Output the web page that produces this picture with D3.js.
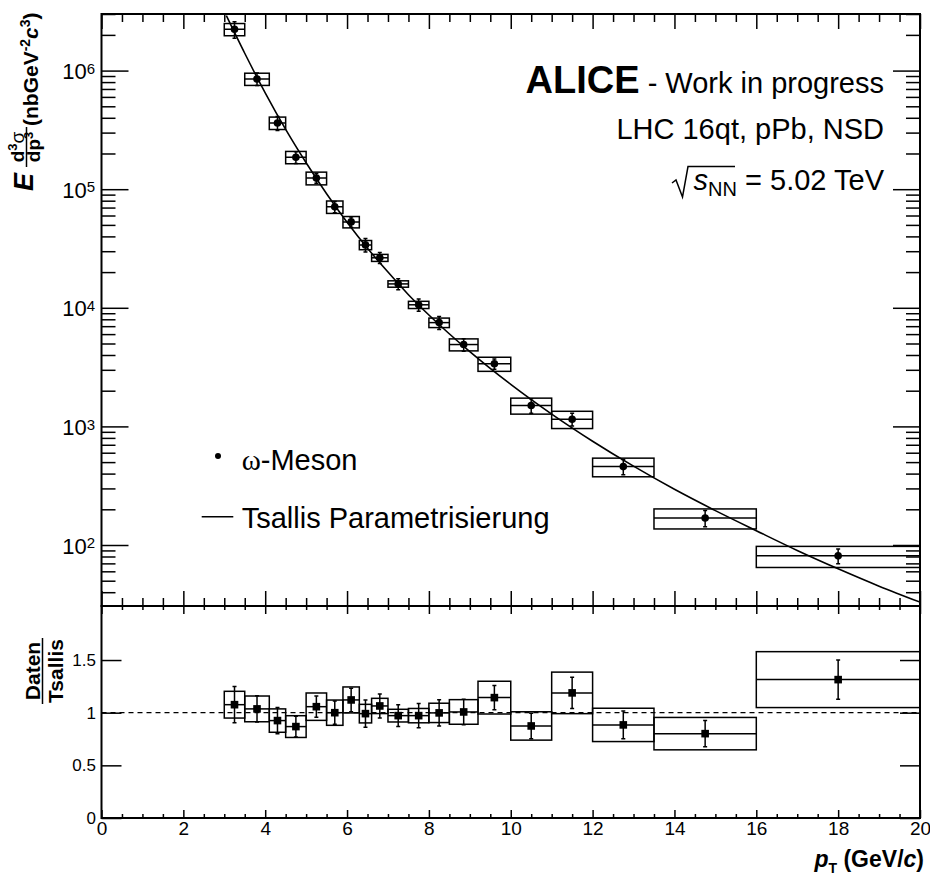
<!DOCTYPE html>
<html>
<head>
<meta charset="UTF-8" />
<title>omega meson pPb spectrum</title>
<script src="https://cdnjs.cloudflare.com/ajax/libs/d3/7.8.5/d3.min.js"></script>
<style>
  body { margin: 0; background: #fff; }
  svg { display: block; background: #fff; font-family: "Liberation Sans", Arial, Helvetica, sans-serif; }
</style>
</head>
<body>
<svg id="chart" width="930" height="876"></svg>
<script>
// pT bin edges (GeV/c)
const binEdges = [3.0, 3.5, 4.1, 4.5, 5.0, 5.5, 5.9, 6.3, 6.6, 7.0, 7.5, 8.0, 8.5, 9.2, 10.0, 11.0, 12.0, 13.5, 16.0, 20.0]
// E d3sigma/dp3 (nb GeV^-2 c^3)
const xsec = [2.23e6, 8.5e5, 3.62e5, 1.86e5, 1.24e5, 7.1e4, 5.3e4, 3.39e4, 2.64e4, 1.59e4, 1.06e4, 7.5e3, 4.9e3, 3.37e3, 1.50e3, 1.15e3, 458, 169, 81]
// relative uncertainties
const statRel = [0.16, 0.12, 0.135, 0.113, 0.095, 0.11, 0.10, 0.13, 0.107, 0.106, 0.119, 0.125, 0.12, 0.10, 0.138, 0.125, 0.148, 0.156, 0.142]
const systRel = [0.118, 0.118, 0.12, 0.119, 0.123, 0.12, 0.11, 0.089, 0.068, 0.062, 0.07, 0.092, 0.116, 0.136, 0.154, 0.166, 0.179, 0.192, 0.202]
// data / Tsallis
const ratio = [1.076, 1.036, 0.925, 0.868, 1.057, 1.0, 1.121, 0.991, 1.064, 0.972, 0.972, 0.998, 1.007, 1.143, 0.874, 1.188, 0.884, 0.801, 1.314]
// Tsallis curve
const fitPt = [3.05, 3.5, 4, 4.5, 5, 5.5, 6, 6.5, 7, 7.5, 8, 9, 10, 11, 12, 13, 14, 15, 16, 17, 18, 19, 20]
const fitVal = [2.91e6, 1.40e6, 6.49e5, 3.19e5, 1.67e5, 9.16e4, 5.27e4, 3.18e4, 2.0e4, 1.29e4, 8.7e3, 4.27e3, 2.26e3, 1.27e3, 750, 462, 295, 195, 132, 90, 63, 45, 33]

const xTicks = [0, 2, 4, 6, 8, 10, 12, 14, 16, 18, 20]
const logTicks = [1e2, 1e3, 1e4, 1e5, 1e6]
const ratioTicks = [0, 0.5, 1, 1.5]

const L = 101.5, R = 920, T = 14, M = 606, B = 818
const svg = d3.select("#chart")

const x = d3.scaleLinear().domain([0, 20]).range([L, R])
const y = d3.scaleLog().domain([30.6, 3.0e6]).range([M, T])
const yr = d3.scaleLinear().domain([0, 2.013]).range([B, M])

const pts = xsec.map((v, i) => ({
  lo: binEdges[i], hi: binEdges[i + 1], pt: (binEdges[i] + binEdges[i + 1]) / 2,
  v: v, r: ratio[i], stat: statRel[i], syst: systRel[i]
}))

svg.append("defs").append("clipPath").attr("id", "clipTop")
  .append("rect").attr("x", L).attr("y", T).attr("width", R - L).attr("height", M - T)

// ---- ticks
function ticks(tr, axis, values, size) {
  const g = svg.append("g").attr("transform", tr)
    .call(axis.tickValues(values).tickSize(size).tickFormat(""))
  g.select(".domain").remove()
  g.selectAll("line").attr("stroke-width", 1.5)
  return g
}
const xMinor = d3.range(0, 20.01, 0.5).filter(v => v % 2 !== 0)
const logMinor = d3.range(1, 7).flatMap(e => d3.range(2, 10).map(m => m * Math.pow(10, e)))
  .filter(v => v >= 30.6 && v <= 3.0e6)

// top panel
ticks(`translate(0,${M})`, d3.axisBottom(x), xTicks, -15)
ticks(`translate(0,${M})`, d3.axisBottom(x), xMinor, -8)
ticks(`translate(0,${T})`, d3.axisTop(x), xTicks, -15)
ticks(`translate(0,${T})`, d3.axisTop(x), xMinor, -8)
ticks(`translate(${L},0)`, d3.axisLeft(y), logTicks, -27)
ticks(`translate(${L},0)`, d3.axisLeft(y), logMinor, -14)
ticks(`translate(${R},0)`, d3.axisRight(y), logTicks, -27)
ticks(`translate(${R},0)`, d3.axisRight(y), logMinor, -14)

// bottom panel
ticks(`translate(0,${M})`, d3.axisTop(x), xTicks, -8)
ticks(`translate(0,${M})`, d3.axisTop(x), xMinor, -4)
ticks(`translate(0,${B})`, d3.axisBottom(x), xMinor, -4)
ticks(`translate(${R},0)`, d3.axisRight(yr), ratioTicks, -20)

const xAx = svg.append("g").attr("transform", `translate(0,${B})`)
  .call(d3.axisBottom(x).tickValues(xTicks).tickSize(-8).tickPadding(3.5).tickFormat(d3.format("d")))
xAx.select(".domain").remove()
xAx.selectAll("line").attr("stroke-width", 1.5)
xAx.attr("font-size", 19).attr("font-family", null)

const yrAx = svg.append("g").attr("transform", `translate(${L},0)`)
  .call(d3.axisLeft(yr).tickValues(ratioTicks).tickSize(-20).tickPadding(5.5).tickFormat(d => d))
yrAx.select(".domain").remove()
yrAx.selectAll("line").attr("stroke-width", 1.5)
yrAx.attr("font-size", 17).attr("font-family", null)

// log labels 10^n
const ylab = svg.append("g").attr("text-anchor", "end")
logTicks.forEach(v => {
  const t = ylab.append("text").attr("x", L - 6.5).attr("y", y(v) + 8.6).attr("font-size", 22)
  t.append("tspan").text("10")
  t.append("tspan").attr("dy", -5.3).attr("font-size", 15).text(Math.round(Math.log10(v)))
})

// ---- top panel data
const gTop = svg.append("g").attr("clip-path", "url(#clipTop)")
  .attr("fill", "none").attr("stroke", "#000").attr("stroke-width", 1.5)

gTop.selectAll("rect.sys").data(pts).join("rect")
  .attr("x", d => x(d.lo)).attr("width", d => x(d.hi) - x(d.lo))
  .attr("y", d => y(d.v * (1 + d.syst)))
  .attr("height", d => y(d.v * (1 - d.syst)) - y(d.v * (1 + d.syst)))
gTop.selectAll("line.xerr").data(pts).join("line")
  .attr("x1", d => x(d.lo)).attr("x2", d => x(d.hi)).attr("y1", d => y(d.v)).attr("y2", d => y(d.v))
gTop.selectAll("line.yerr").data(pts).join("line")
  .attr("x1", d => x(d.pt)).attr("x2", d => x(d.pt))
  .attr("y1", d => y(d.v * (1 + d.stat))).attr("y2", d => y(d.v * (1 - d.stat)))
gTop.selectAll("path.cap").data(pts).join("path")
  .attr("d", d => `M${x(d.pt) - 2},${y(d.v * (1 + d.stat))}h4M${x(d.pt) - 2},${y(d.v * (1 - d.stat))}h4`)

const fitLine = d3.line().x(d => x(d[0])).y(d => y(d[1])).curve(d3.curveMonotoneX)
gTop.append("path").datum(fitPt.map((p, i) => [p, fitVal[i]]))
  .attr("d", fitLine).attr("stroke-width", 1.6)

svg.append("g").selectAll("circle").data(pts).join("circle")
  .attr("cx", d => x(d.pt)).attr("cy", d => y(d.v)).attr("r", 3.8).attr("fill", "#000")

// ---- ratio panel
const gBot = svg.append("g").attr("fill", "none").attr("stroke", "#000").attr("stroke-width", 1.5)
gBot.append("line").attr("x1", x(0)).attr("x2", x(20)).attr("y1", yr(1)).attr("y2", yr(1))
  .attr("stroke-dasharray", "5,4").attr("stroke-width", 1.3)
gBot.selectAll("rect.sys").data(pts).join("rect")
  .attr("x", d => x(d.lo)).attr("width", d => x(d.hi) - x(d.lo))
  .attr("y", d => yr(d.r * (1 + d.syst)))
  .attr("height", d => yr(d.r * (1 - d.syst)) - yr(d.r * (1 + d.syst)))
gBot.selectAll("line.xerr").data(pts).join("line")
  .attr("x1", d => x(d.lo)).attr("x2", d => x(d.hi)).attr("y1", d => yr(d.r)).attr("y2", d => yr(d.r))
gBot.selectAll("line.yerr").data(pts).join("line")
  .attr("x1", d => x(d.pt)).attr("x2", d => x(d.pt))
  .attr("y1", d => yr(d.r * (1 + d.stat))).attr("y2", d => yr(d.r * (1 - d.stat)))
gBot.selectAll("path.cap").data(pts).join("path")
  .attr("d", d => `M${x(d.pt) - 2},${yr(d.r * (1 + d.stat))}h4M${x(d.pt) - 2},${yr(d.r * (1 - d.stat))}h4`)
svg.append("g").selectAll("rect").data(pts).join("rect")
  .attr("x", d => x(d.pt) - 3.8).attr("y", d => yr(d.r) - 3.8)
  .attr("width", 7.6).attr("height", 7.6).attr("fill", "#000")

// frames
svg.append("rect").attr("x", L).attr("y", T).attr("width", R - L).attr("height", M - T)
  .attr("fill", "none").attr("stroke", "#000").attr("stroke-width", 2)
svg.append("rect").attr("x", L).attr("y", M).attr("width", R - L).attr("height", B - M)
  .attr("fill", "none").attr("stroke", "#000").attr("stroke-width", 2)

// ---- axis titles
const yt = svg.append("g").attr("transform", "rotate(-90)").attr("font-weight", "bold")
yt.append("text").attr("x", -191).attr("y", 33).attr("font-size", 27).attr("font-style", "italic").text("E")
const num = yt.append("text").attr("x", -147).attr("y", 24).attr("font-size", 19).attr("text-anchor", "middle")
num.append("tspan").text("d")
num.append("tspan").attr("dy", -7).attr("font-size", 13).text("3")
num.append("tspan").attr("dy", 7).attr("font-weight", "normal").text("σ")
const den = yt.append("text").attr("x", -147).attr("y", 40).attr("font-size", 19).attr("text-anchor", "middle")
den.append("tspan").text("dp")
den.append("tspan").attr("dy", -7).attr("font-size", 13).text("3")
yt.append("line").attr("x1", -167).attr("x2", -127).attr("y1", 26.5).attr("y2", 26.5)
  .attr("stroke", "#000").attr("stroke-width", 1.5)
const unit = yt.append("text").attr("x", -126).attr("y", 38).attr("font-size", 21)
unit.append("tspan").text("(nbGeV")
unit.append("tspan").attr("dy", -8).attr("font-size", 14).text("-2")
unit.append("tspan").attr("dy", 8).attr("font-style", "italic").text("c")
unit.append("tspan").attr("dy", -8).attr("font-size", 14).text("3")
unit.append("tspan").attr("dy", 8).text(")")

const rt = svg.append("g").attr("transform", "rotate(-90)").attr("font-weight", "bold")
  .attr("font-size", 21).attr("text-anchor", "middle")
rt.append("text").attr("x", -671).attr("y", 40).text("Daten")
rt.append("text").attr("x", -671).attr("y", 63).text("Tsallis")
rt.append("line").attr("x1", -704).attr("x2", -638).attr("y1", 42.5).attr("y2", 42.5)
  .attr("stroke", "#000").attr("stroke-width", 1.5)

const xt = svg.append("text").attr("x", 924).attr("y", 867).attr("text-anchor", "end")
  .attr("font-weight", "bold").attr("font-size", 23)
xt.append("tspan").attr("font-style", "italic").text("p")
xt.append("tspan").attr("dy", 6).attr("font-size", 14).text("T")
xt.append("tspan").attr("dy", -6).text(" (GeV/")
xt.append("tspan").attr("font-style", "italic").text("c")
xt.append("tspan").text(")")

// ---- header text
const h1 = svg.append("text").attr("x", 884).attr("y", 93).attr("text-anchor", "end").attr("font-size", 29)
h1.append("tspan").attr("font-weight", "bold").attr("font-size", 38).text("ALICE")
h1.append("tspan").text(" - Work in progress")
svg.append("text").attr("x", 884).attr("y", 139).attr("text-anchor", "end").attr("font-size", 29)
  .text("LHC 16qt, pPb, NSD")
const h3 = svg.append("text").attr("x", 884).attr("y", 190).attr("text-anchor", "end").attr("font-size", 29)
h3.append("tspan").attr("font-style", "italic").text("s")
h3.append("tspan").attr("dy", 6).attr("font-size", 20).text("NN")
h3.append("tspan").attr("dy", -6).text(" = 5.02 TeV")
svg.append("path").attr("d", "M672,183 L676,180 L682.5,197 L688,166.5 L735,166.5")
  .attr("fill", "none").attr("stroke", "#000").attr("stroke-width", 1.5)

// ---- legend
svg.append("circle").attr("cx", 218).attr("cy", 456).attr("r", 3).attr("fill", "#000")
const lg1 = svg.append("text").attr("x", 241.7).attr("y", 470).attr("font-size", 29)
lg1.append("tspan").attr("font-family", "'Liberation Serif', 'Times New Roman', serif").text("ω")
lg1.append("tspan").text("-Meson")
svg.append("line").attr("x1", 201.7).attr("x2", 233.3).attr("y1", 516.7).attr("y2", 516.7)
  .attr("stroke", "#000").attr("stroke-width", 1.5)
svg.append("text").attr("x", 241.7).attr("y", 528).attr("font-size", 29).text("Tsallis Parametrisierung")
</script>
</body>
</html>
